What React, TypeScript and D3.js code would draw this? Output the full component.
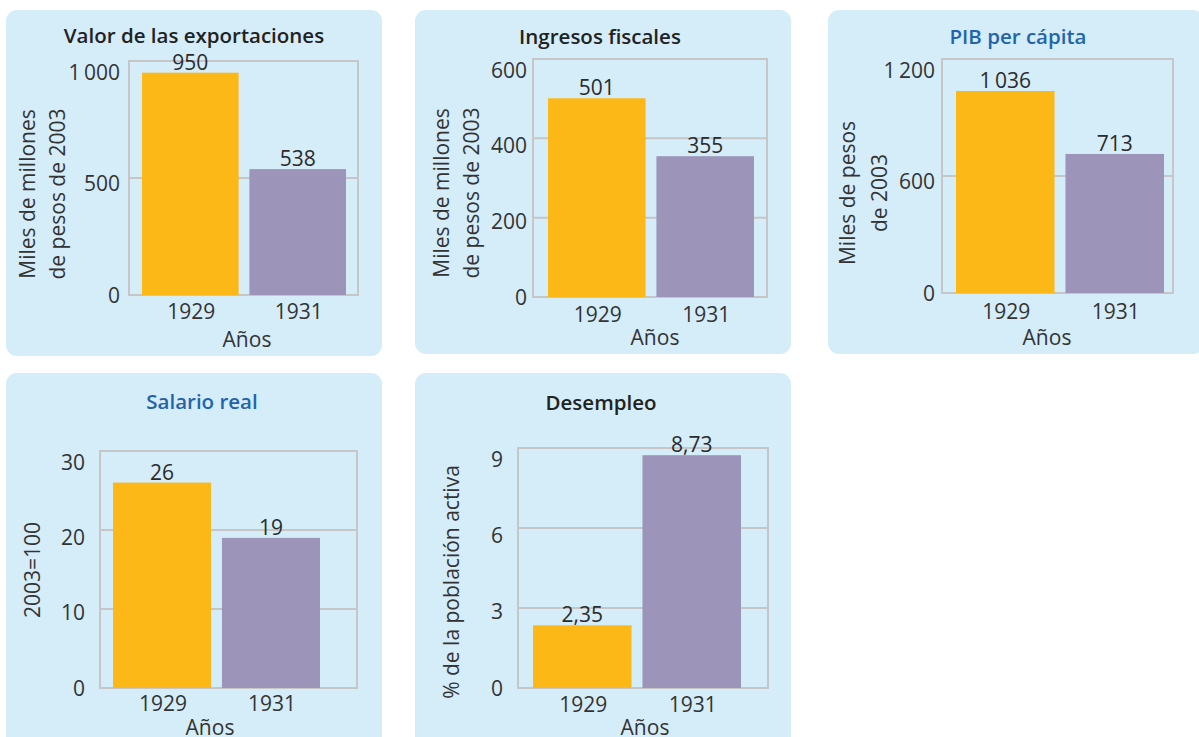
import * as d3 from 'd3';

// ---- data ----
const years = ['1929', '1931'];

const exportaciones = [950, 538];
const ingresos = [501, 355];
const pibPerCapita = [1036, 713];
const salarioReal = [26, 19];
const desempleo = [2.35, 8.73];

const ticksExportaciones = [0, 500, 1000];
const ticksIngresos = [0, 200, 400, 600];
const ticksPib = [0, 600, 1200];
const ticksSalario = [0, 10, 20, 30];
const ticksDesempleo = [0, 3, 6, 9];

const barColors = ['#fbb817', '#9c95b9'];

// Spanish number style: thin space for thousands, comma for decimals
const es = d3.formatLocale({
  decimal: ',',
  thousands: '\u2009',
  grouping: [3],
  currency: ['', ''],
});
const fmtInt = es.format(',d');
const fmtDec = es.format(',.2f');

const FONT = '"Open Sans", "Noto Sans", sans-serif';
const FS = 21;

interface Panel {
  title: string;
  titleColor: string;
  values: number[];
  ticks: number[];
  yLabel: string[];
  fmt: (n: number) => string;
  // layout
  box: [number, number, number, number];
  plot: [number, number, number, number]; // x0, x1, yTop, yBottom
  bars: [number, number];
  titleX: number;
  titleY: number;
  yLabelX: number[];
  yLabelY: number;
  tickRight: number;
  xTickY: number;
  anosX: number;
  anosY: number;
}

const panels: Panel[] = [
  {
    title: 'Valor de las exportaciones', titleColor: '#222', values: exportaciones,
    ticks: ticksExportaciones, yLabel: ['Miles de millones', 'de pesos de 2003'], fmt: fmtInt,
    box: [6, 10, 376, 346], plot: [129, 358, 61, 295], bars: [142, 346],
    titleX: 194, titleY: 43, yLabelX: [35, 65], yLabelY: 194, tickRight: 120,
    xTickY: 319, anosX: 247, anosY: 347,
  },
  {
    title: 'Ingresos fiscales', titleColor: '#222', values: ingresos,
    ticks: ticksIngresos, yLabel: ['Miles de millones', 'de pesos de 2003'], fmt: fmtInt,
    box: [415, 10, 376, 344], plot: [533, 767, 59, 297], bars: [548, 754],
    titleX: 600, titleY: 44, yLabelX: [449, 479], yLabelY: 193, tickRight: 527,
    xTickY: 322, anosX: 655, anosY: 345,
  },
  {
    title: 'PIB per cápita', titleColor: '#1f64ad', values: pibPerCapita,
    ticks: ticksPib, yLabel: ['Miles de pesos', 'de 2003'], fmt: fmtInt,
    box: [828, 10, 376, 344], plot: [942, 1173, 59, 293], bars: [956, 1164],
    titleX: 1018, titleY: 44, yLabelX: [855, 887], yLabelY: 193, tickRight: 935,
    xTickY: 319, anosX: 1047, anosY: 345,
  },
  {
    title: 'Salario real', titleColor: '#1f64ad', values: salarioReal,
    ticks: ticksSalario, yLabel: ['2003=100'], fmt: fmtInt,
    box: [6, 373, 376, 380], plot: [100, 357, 451, 688], bars: [113, 320],
    titleX: 202, titleY: 409, yLabelX: [40], yLabelY: 570, tickRight: 85,
    xTickY: 711, anosX: 210, anosY: 735,
  },
  {
    title: 'Desempleo', titleColor: '#222', values: desempleo,
    ticks: ticksDesempleo, yLabel: ['% de la población activa'], fmt: fmtDec,
    box: [415, 373, 376, 380], plot: [518, 768, 448, 688], bars: [533, 741],
    titleX: 601, titleY: 410, yLabelX: [459], yLabelY: 582, tickRight: 503,
    xTickY: 712, anosX: 645, anosY: 735,
  },
];

function BarPanel({ p }: { p: Panel }) {
  const [bx, by, bw, bh] = p.box;
  const [x0, x1, yTop, yBottom] = p.plot;
  const max = d3.max(p.ticks)!;

  const y = d3.scaleLinear()
    .domain([0, max])
    .range([yBottom, yTop]);

  const x = d3.scaleBand<string>()
    .domain(years)
    .range(p.bars)
    .paddingInner(0.1)
    .paddingOuter(0);

  const inner = p.ticks.slice(1, -1);

  return (
    <g>
      <rect x={bx} y={by} width={bw} height={bh} rx={11} fill="#d5ecf9" />
      <text x={p.titleX} y={p.titleY} textAnchor="middle" fontSize={20.5} fontWeight={600}
        fill={p.titleColor} fontFamily={FONT}>{p.title}</text>

      {/* plot frame + gridlines */}
      <rect x={x0} y={yTop} width={x1 - x0} height={yBottom - yTop}
        fill="none" stroke="#c6c6c6" strokeWidth={2} />
      {inner.map((t) => (
        <line key={t} x1={x0} x2={x1} y1={y(t)} y2={y(t)} stroke="#c6c6c6" strokeWidth={2} />
      ))}

      {/* bars */}
      {p.values.map((v, i) => (
        <rect key={years[i]} x={x(years[i])} y={y(v)} width={x.bandwidth()}
          height={y(0) - y(v)} fill={barColors[i]} />
      ))}

      {/* value labels */}
      {p.values.map((v, i) => (
        <text key={'v' + i} x={x(years[i])! + x.bandwidth() / 2} y={y(v) - 3}
          textAnchor="middle" fontSize={FS} fill="#2b2b2b" fontFamily={FONT}>{p.fmt(v)}</text>
      ))}

      {/* y ticks */}
      {p.ticks.map((t) => (
        <text key={'t' + t} x={p.tickRight} y={y(t) + 11 * (t / max)} dy="0.36em"
          textAnchor="end" fontSize={FS} fill="#333" fontFamily={FONT}>{fmtInt(t)}</text>
      ))}

      {/* x ticks */}
      {years.map((yr) => (
        <text key={'x' + yr} x={x(yr)! + x.bandwidth() / 2 + 1} y={p.xTickY} textAnchor="middle"
          fontSize={FS} fill="#333" fontFamily={FONT}>{yr}</text>
      ))}
      <text x={p.anosX} y={p.anosY} textAnchor="middle" fontSize={FS} fill="#333"
        fontFamily={FONT}>Años</text>

      {/* y axis title */}
      {p.yLabel.map((line, i) => (
        <text key={'y' + i} transform={`translate(${p.yLabelX[i]},${p.yLabelY}) rotate(-90)`}
          textAnchor="middle" fontSize={21} fill="#333" fontFamily={FONT}>{line}</text>
      ))}
    </g>
  );
}

export default function App() {
  return (
    <svg width={1199} height={737} viewBox="0 0 1199 737"
      style={{ position: 'absolute', left: 0, top: 0, background: '#fff' }}>
      {panels.map((p) => <BarPanel key={p.title} p={p} />)}
    </svg>
  );
}
